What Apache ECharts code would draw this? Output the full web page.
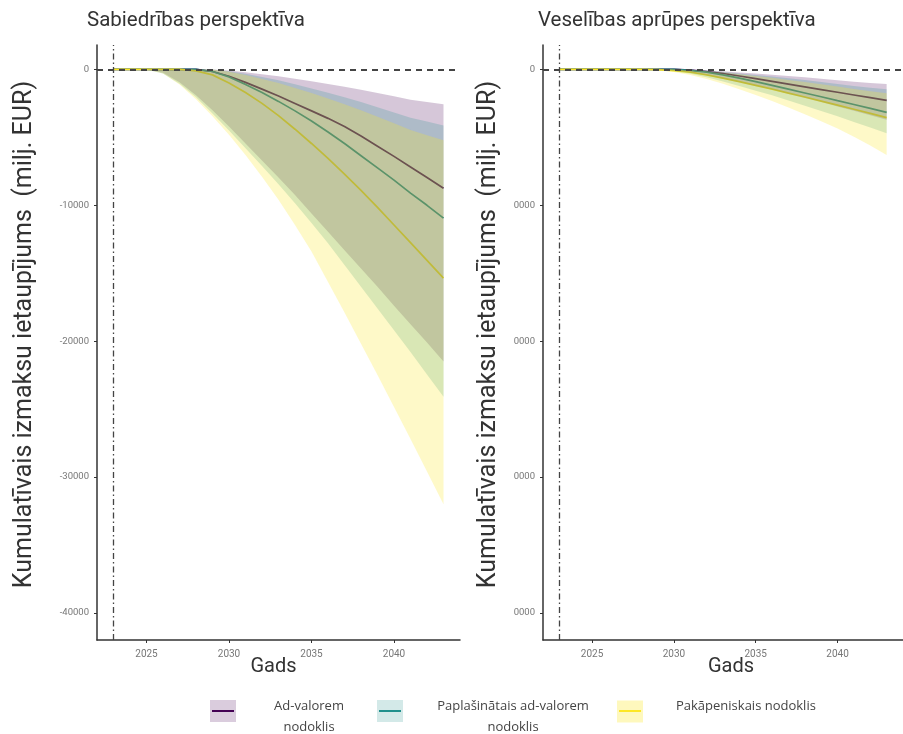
<!DOCTYPE html>
<html>
<head>
<meta charset="utf-8">
<script src="https://cdn.jsdelivr.net/npm/echarts@6/dist/echarts.min.js"></script>
<style>html,body{margin:0;padding:0;background:#fff}#chart{width:903px;height:734px}</style>
</head>
<body>
<div id="chart"></div>
<script>
const years = [2023,2024,2025,2026,2027,2028,2029,2030,2031,2032,2033,2034,2035,2036,2037,2038,2039,2040,2041,2042,2043];
const seriesNames = ['Ad-valorem nodoklis','Paplašinātais ad-valorem nodoklis','Pakāpeniskais nodoklis'];
const panelTitles = ['Sabiedrības perspektīva','Veselības aprūpes perspektīva'];
const xTicks = [2025,2030,2035,2040];
const yTicks = [-40000,-30000,-20000,-10000,0];
const yTitle = 'Kumulatīvais izmaksu ietaupījums  (milj. EUR)';
const xTitle = 'Gads';

// Left panel: Sabiedrības perspektīva
const adMeanL = [0,0,0,0,0,0,-150,-500,-950,-1450,-1950,-2500,-3050,-3600,-4200,-4900,-5650,-6400,-7180,-7960,-8750];
const ppMeanL = [0,0,0,0,0,0,-150,-550,-1100,-1700,-2350,-3050,-3800,-4600,-5450,-6350,-7250,-8150,-9100,-10000,-10950];
const pkMeanL = [0,0,0,0,0,-100,-400,-1000,-1700,-2500,-3400,-4400,-5450,-6550,-7700,-8900,-10150,-11450,-12750,-14050,-15360];
const adLoL = [0,0,0,-250,-950,-1900,-3000,-4200,-5450,-6700,-7950,-9250,-10600,-11950,-13300,-14650,-16000,-17400,-18750,-20100,-21500];
const ppLoL = [0,0,0,-300,-1050,-2050,-3250,-4500,-5800,-7100,-8450,-9850,-11300,-12800,-14400,-16000,-17600,-19200,-20800,-22450,-24100];
const pkLoL = [0,0,0,-300,-1100,-2200,-3450,-4800,-6300,-7900,-9600,-11450,-13400,-15650,-17900,-20200,-22500,-24850,-27200,-29600,-32000];
const adHiL = [0,0,0,0,0,0,0,-80,-200,-350,-500,-680,-870,-1070,-1280,-1500,-1740,-1980,-2230,-2400,-2570];
const ppHiL = [0,0,0,0,0,0,0,-130,-320,-560,-800,-1090,-1400,-1720,-2050,-2400,-2780,-3170,-3560,-3840,-4120];
const pkHiL = [0,0,0,0,0,0,0,-160,-400,-700,-1000,-1360,-1740,-2140,-2560,-3000,-3480,-3960,-4460,-4840,-5220];

// Right panel: Veselības aprūpes perspektīva
const adMeanR = [0,0,0,0,0,0,0,0,-50,-150,-300,-480,-680,-880,-1080,-1280,-1480,-1680,-1880,-2080,-2280];
const ppMeanR = [0,0,0,0,0,0,0,0,-70,-200,-400,-640,-900,-1170,-1450,-1730,-2010,-2300,-2580,-2870,-3160];
const pkMeanR = [0,0,0,0,0,0,-20,-80,-200,-400,-640,-900,-1170,-1450,-1740,-2030,-2330,-2630,-2930,-3230,-3550];
const adLoR = [0,0,0,0,0,0,-20,-100,-250,-450,-700,-960,-1230,-1500,-1800,-2100,-2400,-2720,-3040,-3370,-3700];
const ppLoR = [0,0,0,0,0,0,-25,-130,-320,-570,-890,-1220,-1560,-1900,-2290,-2670,-3050,-3450,-3860,-4280,-4700];
const pkLoR = [0,0,0,0,0,0,-40,-180,-400,-700,-1050,-1450,-1880,-2330,-2800,-3300,-3820,-4350,-4950,-5600,-6300];
const adHiR = [0,0,0,0,0,0,0,0,-20,-70,-140,-220,-300,-390,-480,-580,-680,-790,-900,-1000,-1080];
const ppHiR = [0,0,0,0,0,0,0,0,-30,-95,-190,-300,-405,-525,-650,-780,-920,-1070,-1215,-1350,-1460];
const pkHiR = [0,0,0,0,0,0,0,0,-35,-110,-225,-350,-480,-620,-770,-930,-1090,-1260,-1440,-1600,-1750];

const colors = ['#440154','#21908C','#FDE725'];
const fills = ['rgba(68,1,84,0.22)','rgba(33,144,140,0.22)','rgba(253,231,37,0.25)'];
const keyFills = ['rgba(68,1,84,0.2)','rgba(33,144,140,0.2)','rgba(253,231,37,0.3)'];

const panels = [
  {means:[adMeanL,ppMeanL,pkMeanL], lo:[adLoL,ppLoL,pkLoL], hi:[adHiL,ppHiL,pkHiL]},
  {means:[adMeanR,ppMeanR,pkMeanR], lo:[adLoR,ppLoR,pkLoR], hi:[adHiR,ppHiR,pkHiR]}
];

const chart = echarts.init(document.getElementById('chart'));
const FONT = 'Roboto';

function ribbonRender(lo, hi, fill) {
  return function (params, api) {
    if (params.dataIndex !== 0) return null;
    const pts = [];
    for (let i = 0; i < years.length; i++) pts.push(api.coord([years[i], hi[i]]));
    for (let i = years.length - 1; i >= 0; i--) pts.push(api.coord([years[i], lo[i]]));
    return {type: 'polygon', shape: {points: pts}, style: {fill: fill, stroke: null}};
  };
}

const grids = [
  {left: 97, top: 45, width: 363, height: 595},
  {left: 543, top: 45, width: 365, height: 595}
];

const xAxes = [0,1].map(k => ({
  type: 'value', gridIndex: k, min: 2022, max: 2044,
  name: xTitle, nameLocation: 'middle', nameGap: 17, nameMoveOverlap: false,
  nameTextStyle: {fontSize: 20, color: '#333', fontFamily: FONT, padding: k === 1 ? [0,0,0,16] : [0,0,0,-10]},
  axisLine: {show: true, onZero: false, lineStyle: {color: '#333', width: 1.5}},
  axisTick: {show: true, length: 3, customValues: xTicks, lineStyle: {color: '#333'}},
  axisLabel: {customValues: xTicks, color: '#777', fontSize: 10, margin: 9, fontFamily: FONT, formatter: v => String(v)},
  splitLine: {show: false}
}));

const yAxes = [0,1].map(k => ({
  type: 'value', gridIndex: k, min: -42000, max: 1800,
  name: yTitle, nameLocation: 'middle', nameGap: k === 0 ? 60 : 42,
  nameTextStyle: {fontSize: 25, color: '#333', fontFamily: FONT, padding: [0,0,0,16]},
  axisLine: {show: true, onZero: false, lineStyle: {color: '#333', width: 1.5}},
  axisTick: {show: true, length: 3, customValues: yTicks, lineStyle: {color: '#333'}},
  axisLabel: {customValues: yTicks, color: '#777', fontSize: 9.5, margin: 8, fontFamily: FONT,
    formatter: k === 0 ? (v => String(v)) : (v => v === 0 ? '0' : String(Math.abs(v)).slice(1))},
  splitLine: {show: false}
}));

const series = [];
[0,1].forEach(k => {
  const p = panels[k];
  for (let s = 0; s < 3; s++) {
    series.push({
      type: 'line', name: seriesNames[s], xAxisIndex: k, yAxisIndex: k,
      data: years.map((y, i) => [y, p.means[s][i]]),
      showSymbol: false, symbol: 'none', smooth: false,
      lineStyle: {color: colors[s], width: 1.7}, itemStyle: {color: colors[s]},
      z: 1
    });
  }
  for (let s = 0; s < 3; s++) {
    series.push({
      type: 'custom', name: seriesNames[s], xAxisIndex: k, yAxisIndex: k,
      data: years.map((y, i) => [y, p.lo[s][i], p.hi[s][i]]),
      encode: {x: 0, y: [1, 2]},
      renderItem: ribbonRender(p.lo[s], p.hi[s], fills[s]),
      clip: true, silent: true, z: 2
    });
  }
  series.push({
    type: 'line', xAxisIndex: k, yAxisIndex: k, data: [], silent: true, z: 5,
    markLine: {
      symbol: 'none', silent: true, label: {show: false},
      data: [
        {yAxis: 0, lineStyle: {type: [6,5], color: '#444', width: 1.8}},
        {xAxis: 2023, lineStyle: {type: [6,3,1.5,3], color: '#444', width: 1.3}}
      ]
    }
  });
});

const LF = 'Open Sans';
const legendDefs = [
  {left: 210, name: seriesNames[0], text: '{t|Ad-valorem}\n{t|nodoklis}', w: 136, two: true},
  {left: 377, name: seriesNames[1], text: '{t|Paplašinātais ad-valorem}\n{t|nodoklis}', w: 210, two: true},
  {left: 617, name: seriesNames[2], text: '{s|Pakāpeniskais nodoklis}', w: 0, two: false}
];
const legends = legendDefs.map((d, s) => ({
  left: d.left, top: 700, padding: 0, orient: 'horizontal', itemWidth: 26, itemHeight: 22,
  selectedMode: false,
  data: [{name: d.name, icon: 'rect', itemStyle: {color: keyFills[s], borderWidth: 0}}],
  formatter: () => d.text,
  textStyle: {
    fontSize: 13, color: '#444', fontFamily: LF,
    padding: d.two ? [12,0,0,0] : [0,0,10,0],
    rich: {
      t: {width: d.w, align: 'center', lineHeight: 21, fontSize: 13, color: '#444', fontFamily: LF},
      s: {padding: [0,0,0,28], lineHeight: 20, fontSize: 13, color: '#444', fontFamily: LF}
    }
  }
}));

const graphic = legendDefs.map((d, s) => ({
  type: 'line', silent: true, z: 100,
  shape: {x1: d.left + 2, y1: 711, x2: d.left + 24, y2: 711},
  style: {stroke: colors[s], lineWidth: 2}
}));

chart.setOption({
  animation: false,
  backgroundColor: '#fff',
  title: [
    {text: panelTitles[0], left: 82, top: 5, textStyle: {fontSize: 20.5, fontWeight: 'normal', color: '#333', fontFamily: FONT}},
    {text: panelTitles[1], left: 533, top: 5, textStyle: {fontSize: 20.5, fontWeight: 'normal', color: '#333', fontFamily: FONT}}
  ],
  grid: grids,
  xAxis: xAxes,
  yAxis: yAxes,
  legend: legends,
  graphic: graphic,
  series: series
});
</script>
</body>
</html>
